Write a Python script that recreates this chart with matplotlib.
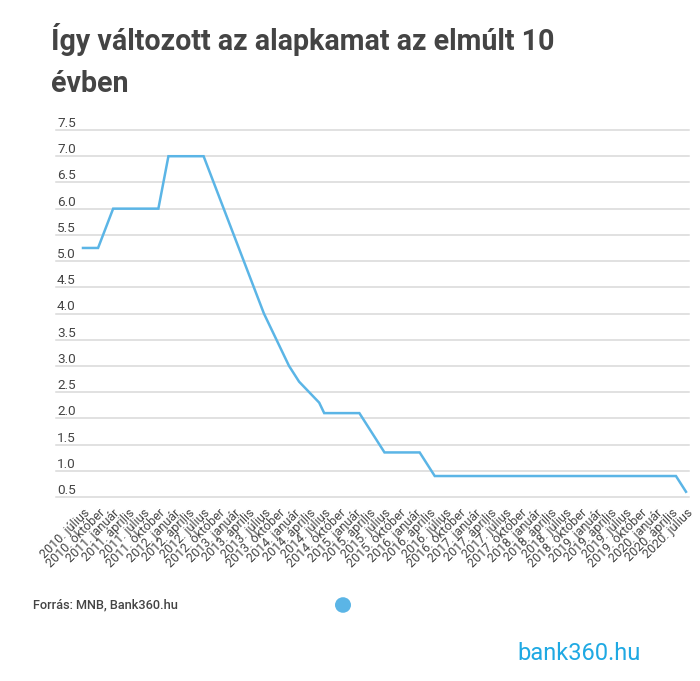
import matplotlib
matplotlib.use("Agg")
import matplotlib.pyplot as plt
from matplotlib.patches import Circle
from matplotlib.transforms import offset_copy

# ---- data (MNB base rate, monthly, 2010 July - 2020 July) ----
rate_2010 = [5.25, 5.25, 5.25, 5.25, 5.5, 5.75]  # Jul-Dec
rate_2011 = [6.0, 6.0, 6.0, 6.0, 6.0, 6.0, 6.0, 6.0, 6.0, 6.0, 6.5, 7.0]
rate_2012 = [7.0, 7.0, 7.0, 7.0, 7.0, 7.0, 7.0, 6.75, 6.5, 6.25, 6.0, 5.75]
rate_2013 = [5.5, 5.25, 5.0, 4.75, 4.5, 4.25, 4.0, 3.8, 3.6, 3.4, 3.2, 3.0]
rate_2014 = [2.85, 2.7, 2.6, 2.5, 2.4, 2.3, 2.1, 2.1, 2.1, 2.1, 2.1, 2.1]
rate_2015 = [2.1, 2.1, 1.95, 1.8, 1.65, 1.5, 1.35, 1.35, 1.35, 1.35, 1.35, 1.35]
rate_2016 = [1.35, 1.35, 1.2, 1.05, 0.9, 0.9, 0.9, 0.9, 0.9, 0.9, 0.9, 0.9]
rate_2017 = [0.9] * 12
rate_2018 = [0.9] * 12
rate_2019 = [0.9] * 12
rate_2020 = [0.9, 0.9, 0.9, 0.9, 0.9, 0.75, 0.6]  # Jan-Jul

rates = (rate_2010 + rate_2011 + rate_2012 + rate_2013 + rate_2014 + rate_2015
         + rate_2016 + rate_2017 + rate_2018 + rate_2019 + rate_2020)

tick_labels = [
    "2010. július", "2010. október",
    "2011. január", "2011. április", "2011. július", "2011. október",
    "2012. január", "2012. április", "2012. július", "2012. október",
    "2013. január", "2013. április", "2013. július", "2013. október",
    "2014. január", "2014. április", "2014. július", "2014. október",
    "2015. január", "2015. április", "2015. július", "2015. október",
    "2016. január", "2016. április", "2016. július", "2016. október",
    "2017. január", "2017. április", "2017. július", "2017. október",
    "2018. január", "2018. április", "2018. július", "2018. október",
    "2019. január", "2019. április", "2019. július", "2019. október",
    "2020. január", "2020. április", "2020. július",
]
y_ticks = [0.5, 1.0, 1.5, 2.0, 2.5, 3.0, 3.5, 4.0, 4.5, 5.0, 5.5, 6.0, 6.5, 7.0, 7.5]

title_line1 = "Így változott az alapkamat az elmúlt 10"
title_line2 = "évben"
source = "Forrás: MNB, Bank360.hu"

plt.rcParams['font.family'] = ['Roboto', 'DejaVu Sans']
TXT = "#444444"
LINE = "#5bb5e6"

W, H = 700, 681
fig = plt.figure(figsize=(W / 100, H / 100), dpi=100)
fig.patch.set_facecolor("white")

left, right, top, bottom = 56, 689, 130, 497
ax = fig.add_axes([left / W, 1 - bottom / H, (right - left) / W, (bottom - top) / H])

x = list(range(len(rates)))
ppm = (686 - 83) / (len(rates) - 1)
ax.set_xlim(-(83 - left) / ppm, (len(rates) - 1) + (right - 686) / ppm)
ax.set_ylim(0.5, 7.5)

label_tr = offset_copy(ax.get_yaxis_transform(), fig=fig, x=1, y=3, units='dots')
for yv in y_ticks:
    ax.axhline(yv, color="#d9d9d9", lw=1.1, zorder=1, clip_on=False)
    ax.text(0.0, yv, f"{yv:.1f}", transform=label_tr,
            ha="left", va="baseline", fontsize=9.7, color=TXT)

ax.plot(x, rates, color=LINE, lw=1.8, zorder=3, solid_joinstyle="miter", clip_on=False)

ax.set_yticks([])
tick_pos = list(range(0, len(rates), 3))
ax.set_xticks(tick_pos)
ax.set_xticklabels(tick_labels, rotation=45, ha="right", va="top",
                   rotation_mode="anchor", fontsize=9, color=TXT)
ax.tick_params(axis="x", length=0, pad=7)
for s in ax.spines.values():
    s.set_visible(False)
ax.set_facecolor("none")

fig.text(51 / W, 1 - 50 / H, title_line1, ha="left", va="baseline", fontsize=20.6,
         fontweight="bold", color=TXT)
fig.text(51 / W, 1 - 92 / H, title_line2, ha="left", va="baseline", fontsize=20.6,
         fontweight="bold", color=TXT)

fig.text(33 / W, 1 - 605 / H, source, ha="left", va="center", fontsize=9.2,
         fontweight="medium", color=TXT)
fig.patches.append(Circle((343 / W, 1 - 605 / H), 8 / W, transform=fig.transFigure,
                          facecolor=LINE, edgecolor="none"))
fig.text(517 / W, 1 - 660 / H, "bank360.hu", ha="left", va="baseline", fontsize=17,
         fontweight="normal", color="#1fa9e3")

fig.savefig("out.png", dpi=100, facecolor="white")
